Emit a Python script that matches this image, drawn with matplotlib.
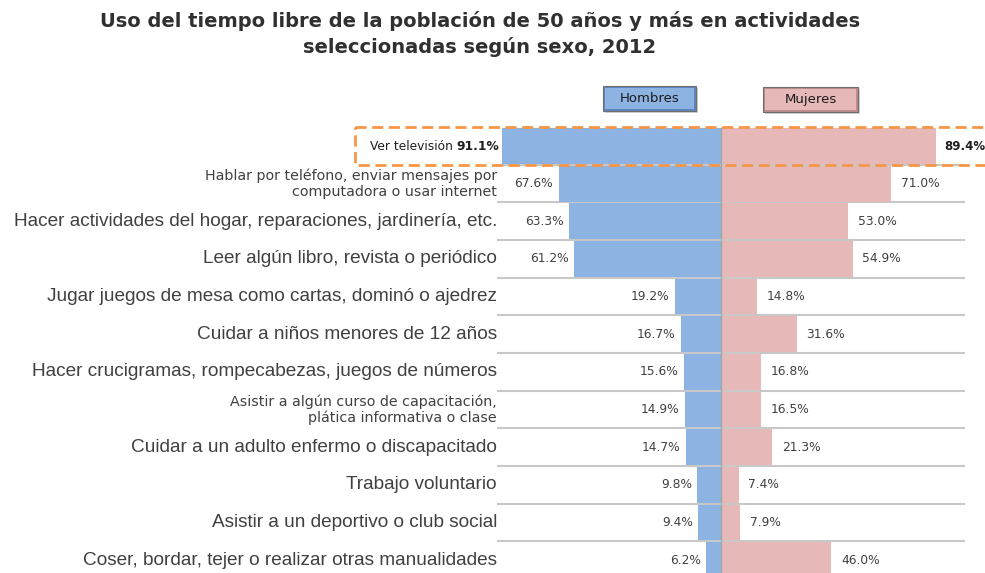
import matplotlib
matplotlib.use("Agg")
import matplotlib.pyplot as plt
from matplotlib.patches import Rectangle

plt.rcParams["font.family"] = ["Liberation Sans", "DejaVu Sans"]

# ── Datos ──
categorias = [
    "Ver televisión",
    "Hablar por teléfono, enviar mensajes por\ncomputadora o usar internet",
    "Hacer actividades del hogar, reparaciones, jardinería, etc.",
    "Leer algún libro, revista o periódico",
    "Jugar juegos de mesa como cartas, dominó o ajedrez",
    "Cuidar a niños menores de 12 años",
    "Hacer crucigramas, rompecabezas, juegos de números",
    "Asistir a algún curso de capacitación,\nplática informativa o clase",
    "Cuidar a un adulto enfermo o discapacitado",
    "Trabajo voluntario",
    "Asistir a un deportivo o club social",
    "Coser, bordar, tejer o realizar otras manualidades",
]
hombres = [91.1, 67.6, 63.3, 61.2, 19.2, 16.7, 15.6, 14.9, 14.7, 9.8, 9.4, 6.2]
mujeres = [89.4, 71.0, 53.0, 54.9, 14.8, 31.6, 16.8, 16.5, 21.3, 7.4, 7.9, 46.0]
etiquetas_chicas = {0, 1, 7}

titulo = ("Uso del tiempo libre de la población de 50 años y más en actividades\n"
          "seleccionadas según sexo, 2012")

# ── Estilo / layout (pixeles de la imagen de referencia) ──
W, H = 985, 573
CX = 721          # eje central
PX_PCT = 2.4      # pixeles por punto porcentual
Y0 = 146          # centro de la primera fila
ROW = 37.64       # alto de fila
AZUL = "#8DB3E2"
ROSA = "#E6B9B8"
GRIS_TXT = "#404040"
NARANJA = "#F79646"
ANCHA = "DejaVu Sans"   # fuente más ancha para textos chicos

fig = plt.figure(figsize=(W / 100, H / 100), dpi=100)
ax = fig.add_axes([0, 0, 1, 1])
ax.set_xlim(-CX / PX_PCT, (W - CX) / PX_PCT)
ax.set_ylim((H - Y0) / ROW, -Y0 / ROW)
ax.axis("off")

n = len(categorias)
ys = list(range(n))
x_lbl = (497 - CX) / PX_PCT
x_fin = (965 - CX) / PX_PCT

# líneas separadoras
ax.hlines([y + 0.5 for y in ys], x_lbl, x_fin, color="#C8C8C8", lw=1.5, zorder=1)

ax.barh(ys, [-v for v in hombres], height=0.95, color=AZUL, zorder=2)
ax.barh(ys, mujeres, height=0.95, color=ROSA, zorder=2)
ax.vlines(0, -0.5, n, color="#A6A6A6", lw=1, zorder=3)

for i, (cat, h, m) in enumerate(zip(categorias, hombres, mujeres)):
    if i == 0:
        t = ax.annotate(f"{h:.1f}%", (-h, i), xytext=(-2, 0), textcoords="offset points",
                        ha="right", va="center", fontsize=8.8, fontweight="bold",
                        color="#202020", family=ANCHA)
        fig.canvas.draw()
        bb = t.get_window_extent()
        ax.annotate(cat + " ", (bb.x0, bb.y0 + bb.height / 2), xycoords="figure pixels",
                    ha="right", va="center", fontsize=8.8, color="#202020", family=ANCHA)
        ax.annotate(f"{m:.1f}%", (m, i), xytext=(6, 0), textcoords="offset points",
                    ha="left", va="center", fontsize=8.5, fontweight="bold",
                    color="#202020", family=ANCHA)
        continue
    if i in etiquetas_chicas:
        ax.text(x_lbl, i, cat, ha="right", va="center", fontsize=10.3, color=GRIS_TXT,
                linespacing=1.15, family=ANCHA)
    else:
        ax.text(x_lbl, i, cat, ha="right", va="center", fontsize=13.7, color=GRIS_TXT)
    ax.annotate(f"{h:.1f}%", (-h, i), xytext=(-4, 0), textcoords="offset points",
                ha="right", va="center", fontsize=8.8, color=GRIS_TXT, family=ANCHA)
    ax.annotate(f"{m:.1f}%", (m, i), xytext=(7, 0), textcoords="offset points",
                ha="left", va="center", fontsize=8.8, color=GRIS_TXT, family=ANCHA)

# recuadro punteado de la primera fila
ax.add_patch(Rectangle(((355 - CX) / PX_PCT, -0.5), 300, 1.0, fill=False,
                       ec=NARANJA, lw=2, ls=(0, (4, 2)), zorder=4, clip_on=False))


# leyenda tipo botón (con bisel sencillo)
def boton(x0, y0, w, h, texto, color, borde):
    def rect(x, y, ww, hh, **kw):
        fig.patches.append(Rectangle((x / W, 1 - (y + hh) / H), ww / W, hh / H,
                                     transform=fig.transFigure, **kw))
    rect(x0 + 2, y0 + 2, w, h, fc="#D0D0D0", ec="none")
    rect(x0, y0, w, h, fc=borde, ec="#6E6E6E", lw=0.8)
    rect(x0 + 2, y0 + 2, w - 4, h - 4, fc=color, ec="none")
    fig.text((x0 + w / 2) / W, 1 - (y0 + h / 2) / H, texto, ha="center", va="center",
             fontsize=9.5, color="#1A1A1A", family=ANCHA)


boton(603, 86, 93, 25, "Hombres", AZUL, "#5F86BC")
boton(763, 87, 95, 25, "Mujeres", ROSA, "#BF8C8C")

fig.text(480 / W, 1 - 34 / H, titulo, ha="center", va="center", fontsize=14,
         fontweight="bold", color="#303030", linespacing=1.4, family=ANCHA)

fig.savefig("out.png", dpi=100)
